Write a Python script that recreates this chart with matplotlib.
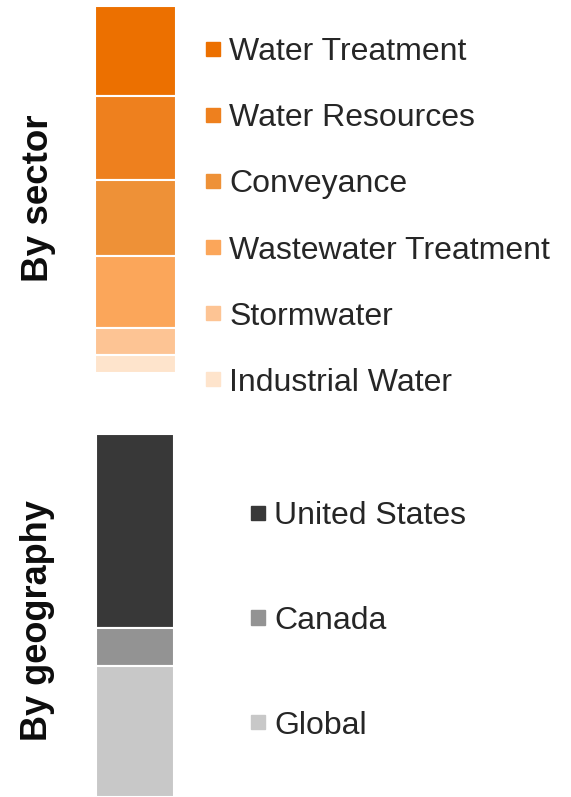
import matplotlib.pyplot as plt
from matplotlib.patches import Patch

# shares (percent of each bar)
sectors = ["Water Treatment", "Water Resources", "Conveyance",
           "Wastewater Treatment", "Stormwater", "Industrial Water"]
sector_share = [24.6, 22.8, 20.7, 19.7, 7.3, 4.9]
sector_colors = ["#EC7000", "#EE801E", "#EE9137", "#FBA65A", "#FDC494", "#FEE4CC"]

regions = ["United States", "Canada", "Global"]
region_share = [53.5, 10.3, 36.2]
region_colors = ["#383838", "#939393", "#C8C8C8"]

W, H = 571, 797
plt.rcParams["font.family"] = ["Liberation Sans", "DejaVu Sans"]
fig = plt.figure(figsize=(W / 100, H / 100), dpi=100)


def px_axes(left, top, right, bottom):
    return fig.add_axes([left / W, 1 - bottom / H, (right - left) / W, (bottom - top) / H])


def stacked_bar(ax, shares, colors):
    bottom = 0
    for val, col in zip(shares, colors):
        ax.bar(0, val, bottom=bottom, width=1, color=col, edgecolor="white", linewidth=1.5)
        bottom += val
    ax.set_xlim(-0.5, 0.5)
    ax.set_ylim(bottom, 0)
    ax.axis("off")


ax1 = px_axes(95, 6, 176, 373.3)
stacked_bar(ax1, sector_share, sector_colors)

ax2 = px_axes(96, 434, 173.5, 797)
stacked_bar(ax2, region_share, region_colors)

legend_kw = dict(loc="center left", frameon=False, fontsize=23, borderpad=0,
                 borderaxespad=0, handlelength=0.44, handleheight=0.3,
                 handletextpad=0.3, labelcolor="#262626")

fig.legend(handles=[Patch(color=c, label=s) for s, c in zip(sectors, sector_colors)],
           bbox_to_anchor=(205.5 / W, 1 - 217.5 / H), labelspacing=1.13, **legend_kw)
fig.legend(handles=[Patch(color=c, label=r) for r, c in zip(regions, region_colors)],
           bbox_to_anchor=(250.5 / W, 1 - 621 / H), labelspacing=2.34, **legend_kw)

fig.text(38 / W, 1 - 198 / H, "By sector", rotation=90, fontsize=26.5, fontweight="bold",
         ha="center", va="center", color="#0d0d0d")
fig.text(38 / W, 1 - 621 / H, "By geography", rotation=90, fontsize=26, fontweight="bold",
         ha="center", va="center", color="#0d0d0d")

fig.savefig("out.png", dpi=100)
